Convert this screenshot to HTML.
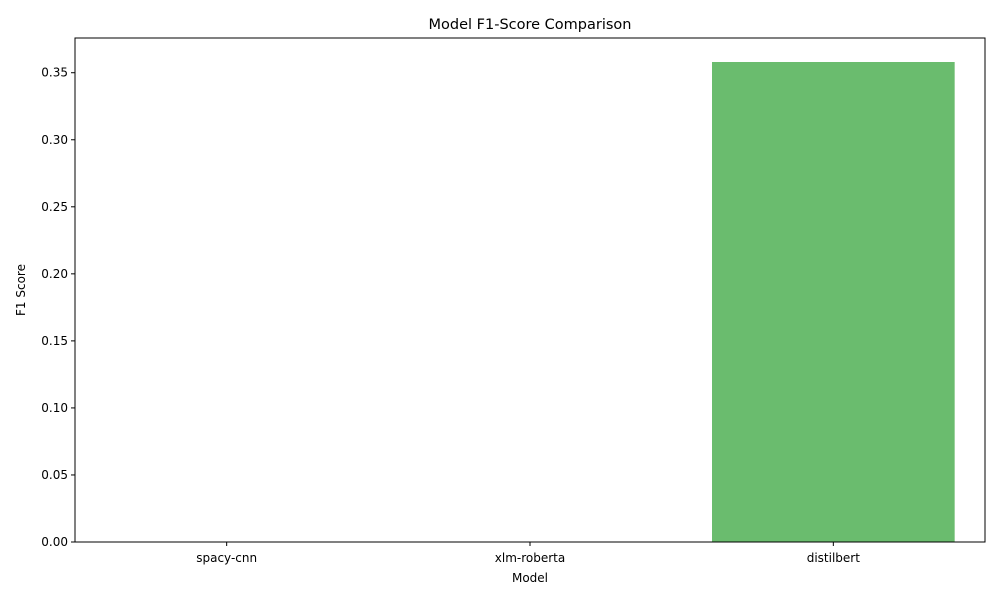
<!DOCTYPE html>
<html><head><meta charset="utf-8"><style>
body{margin:0;background:#fff;font-family:"Liberation Sans","DejaVu Sans",sans-serif}
</style></head><body>
<svg id="chart" width="1000" height="600" font-family="DejaVu Sans, Liberation Sans, sans-serif"></svg>
<script>
const categories = ["spacy-cnn", "xlm-roberta", "distilbert"];
const f1Values = [0, 0, 0.358];
const yTicks = [0, 0.05, 0.10, 0.15, 0.20, 0.25, 0.30, 0.35];
const yTickLabels = ["0.00","0.05","0.10","0.15","0.20","0.25","0.30","0.35"];

const svg = document.getElementById('chart');
const NS = 'http://www.w3.org/2000/svg';
const L=75, R=985, T=38, B=542;
const yMax = Math.max(...f1Values)*1.05 || 1;
const y = v => B - v/yMax*(B-T);
const step = (R-L)/categories.length;
const x = i => L + step*(i+0.5);
function mk(tag, attrs, text){const e=document.createElementNS(NS,tag);for(const k in attrs)e.setAttribute(k,attrs[k]);if(text!==undefined)e.textContent=text;svg.appendChild(e);return e;}

f1Values.forEach((v,i)=>{
  const bw = step*0.8;
  const r = mk('rect',{x:x(i)-bw/2,y:y(v),width:bw,height:B-y(v),fill:'#6abc6e'});
  
  
});
const ax = mk('rect',{x:L,y:T,width:R-L,height:B-T,fill:'none',stroke:'#000','stroke-width':1});


yTicks.forEach((t,i)=>{
  const ln = mk('line',{x1:L-4,x2:L,y1:y(t),y2:y(t),stroke:'#000'});
  
  
  const tx = mk('text',{x:L-7,y:y(t)+4,'text-anchor':'end','font-size':12},yTickLabels[i]);
  
  
});
categories.forEach((c,i)=>{
  const ln = mk('line',{x1:x(i),x2:x(i),y1:B,y2:B+4,stroke:'#000'});
  
  
  const tx = mk('text',{x:x(i),y:B+20,'text-anchor':'middle','font-size':12},c);
  
  
});
const title = mk('text',{x:(L+R)/2,y:29,'text-anchor':'middle','font-size':14.5},'Model F1-Score Comparison');


const xt = mk('text',{x:(L+R)/2,y:582,'text-anchor':'middle','font-size':12},'Model');


const yt = mk('text',{x:25,y:(T+B)/2,'text-anchor':'middle','font-size':12,transform:'rotate(-90 25 '+((T+B)/2)+')'},'F1 Score');


</script>
</body></html>
